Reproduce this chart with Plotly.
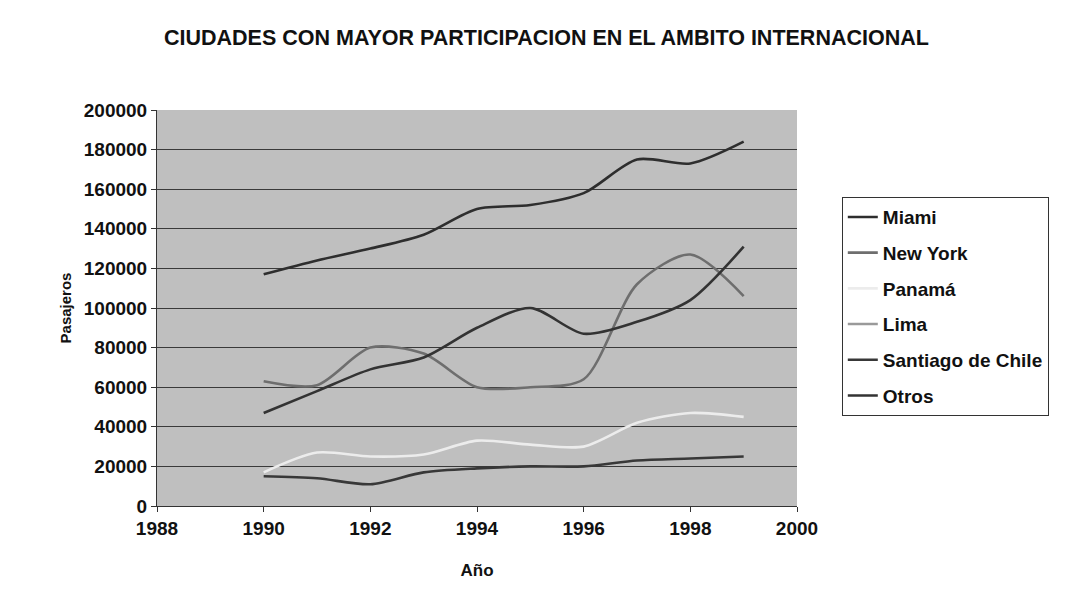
import plotly.graph_objects as go

years = [1990, 1991, 1992, 1993, 1994, 1995, 1996, 1997, 1998, 1999]
miami = [117000, 124000, 130000, 137000, 150000, 152000, 158000, 175000, 173000, 184000]
new_york = [63000, 61000, 80000, 77000, 60000, 60000, 64000, 112000, 127000, 106000]
panama = [17000, 27000, 25000, 26000, 33000, 31000, 30000, 42000, 47000, 45000]
lima = [None] * 10  # line not distinguishable from the background in the scan
santiago = [15000, 14000, 11000, 17000, 19000, 20000, 20000, 23000, 24000, 25000]
otros = [47000, 58000, 69000, 75000, 90000, 100000, 87000, 93000, 104000, 131000]

series = [
    ("Miami", miami, "#2e2e2e"),
    ("New York", new_york, "#6e6e6e"),
    ("Panamá", panama, "#ececec"),
    ("Lima", lima, "#9a9a9a"),
    ("Santiago de Chile", santiago, "#383838"),
    ("Otros", otros, "#333333"),
]

fig = go.Figure()
for i, (name, vals, col) in enumerate(series):
    fig.add_trace(go.Scatter(
        x=years, y=vals, name=name, mode="lines",
        line=dict(color=col, width=2.6, shape="spline", smoothing=0.8),
        legendgroup=f"g{i}",
    ))

font_family = "Liberation Sans, Arial, sans-serif"
fig.update_layout(
    width=1079, height=609,
    paper_bgcolor="white",
    plot_bgcolor="#bfbfbf",
    margin=dict(l=149, r=290, t=102, b=111),
    font=dict(family=font_family, color="#111111"),
    title=dict(
        text="<b>CIUDADES CON MAYOR PARTICIPACION EN EL AMBITO INTERNACIONAL</b>",
        x=0.499, xref="container", xanchor="center",
        y=0.951, yref="container", yanchor="middle",
        font=dict(size=21.5, family=font_family, color="#111111"),
    ),
    xaxis=dict(
        range=[1988, 2000], dtick=2, tick0=1988,
        showgrid=False, zeroline=False,
        showline=True, linecolor="#333333", linewidth=1, mirror=False,
        ticks="outside", ticklen=5, tickcolor="#333333",
        tickfont=dict(size=19, family=font_family, color="#111111", weight="bold"),
        title=dict(text="<b>Año</b>", font=dict(size=17, family=font_family), standoff=26),
    ),
    yaxis=dict(
        range=[0, 200000], dtick=20000, tickformat="d",
        showgrid=True, gridcolor="#3a3a3a", gridwidth=1,
        zeroline=False,
        showline=True, linecolor="#333333", linewidth=1,
        ticks="outside", ticklen=5, tickcolor="#333333",
        tickfont=dict(size=19, family=font_family, color="#111111", weight="bold"),
        title=dict(text="<b>Pasajeros</b>", font=dict(size=15, family=font_family), standoff=8),
    ),
    legend=dict(
        x=1.07, xanchor="left", y=0.78, yanchor="top",
        bgcolor="white", bordercolor="#333333", borderwidth=1,
        font=dict(size=19, family=font_family, color="#111111", weight="bold"),
        tracegroupgap=8,
    ),
    showlegend=True,
)

fig.write_html("out.html")
